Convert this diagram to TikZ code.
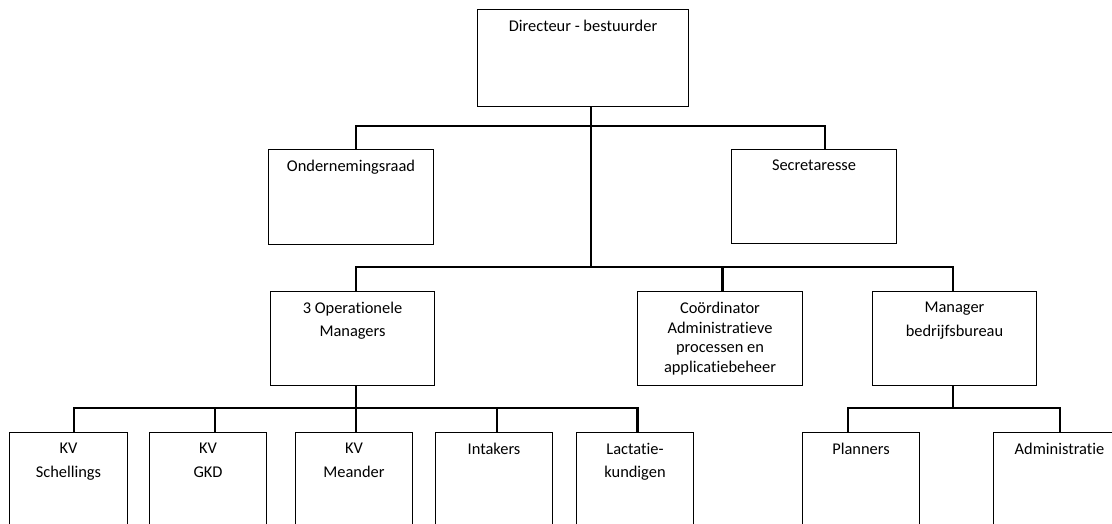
\documentclass[tikz,border=0pt]{standalone}
\usepackage{fontspec}
\setmainfont{Carlito}[Ligatures=NoCommon]
\begin{document}
\begin{tikzpicture}[x=1pt,y=-1pt,
  orgbox/.style={draw=black,line width=1pt,fill=white,inner sep=0pt,anchor=north west},
  conn/.style={line width=2.9pt,line join=miter},
  lbl/.style={anchor=north,inner sep=0pt,align=center,yshift=-11pt,
    font=\fontsize{16.4}{23.4}\selectfont},
  lbltight/.style={lbl,font=\fontsize{16.4}{19.6}\selectfont}]
\clip (0,0) rectangle (1112,524);
\fill[white] (0,0) rectangle (1112,524);
% boxes
\node[orgbox,minimum width=211pt,minimum height=97pt] (dir) at (477,9) {};
\node[orgbox,minimum width=165pt,minimum height=95pt] (or) at (268,149) {};
\node[orgbox,minimum width=165pt,minimum height=94pt] (sec) at (731,149) {};
\node[orgbox,minimum width=164pt,minimum height=94pt] (opm) at (270,291) {};
\node[orgbox,minimum width=165pt,minimum height=94pt] (coo) at (637,291) {};
\node[orgbox,minimum width=164pt,minimum height=94pt] (man) at (872,291) {};
\node[orgbox,minimum width=118pt,minimum height=110pt] (kv1) at (9,432) {};
\node[orgbox,minimum width=117pt,minimum height=110pt] (kv2) at (149,432) {};
\node[orgbox,minimum width=117pt,minimum height=110pt] (kv3) at (295,432) {};
\node[orgbox,minimum width=117pt,minimum height=110pt] (int) at (435,432) {};
\node[orgbox,minimum width=117pt,minimum height=110pt] (lac) at (576,432) {};
\node[orgbox,minimum width=117pt,minimum height=110pt] (pla) at (802,432) {};
\node[orgbox,minimum width=132pt,minimum height=110pt] (adm) at (993,432) {};
% labels
\node[lbl] (tdir) at (dir.north) {Directeur - bestuurder};
\node[lbl] (tor) at (or.north) {Ondernemingsraad};
\node[lbl] (tsec) at (sec.north) {Secretaresse};
\node[lbl] (topm) at (opm.north) {3 Operationele\\Managers};
\node[lbltight] (tcoo) at (coo.north) {Coördinator\\Administratieve\\processen en\\applicatiebeheer};
\node[lbl] (tman) at (man.north) {Manager\\bedrijfsbureau};
\node[lbl] (tkv1) at (kv1.north) {KV\\Schellings};
\node[lbl] (tkv2) at (kv2.north) {KV\\GKD};
\node[lbl] (tkv3) at (kv3.north) {KV\\Meander};
\node[lbl] (tint) at (int.north) {Intakers};
\node[lbl] (tlac) at (lac.north) {Lactatie-\\kundigen};
\node[lbl] (tpla) at (pla.north) {Planners};
\node[lbl] (tadm) at (adm.north) {Administratie};
% bus coordinates
\coordinate (trunkTop) at (591,106);
\coordinate (b1L) at (356,126);
\coordinate (b1R) at (825,126);
\coordinate (trunkBot) at (591,267);
\coordinate (b2L) at (356,267);
\coordinate (b2M) at (722.7,267);
\coordinate (b2R) at (953,267);
\coordinate (b3L) at (74,408);
\coordinate (b3a) at (215,408);
\coordinate (b3b) at (356,408);
\coordinate (b3c) at (497,408);
\coordinate (b3R) at (637.5,408);
\coordinate (b4L) at (848,408);
\coordinate (b4M) at (953,408);
\coordinate (b4R) at (1060,408);
% connectors
\draw[conn] (trunkTop |- dir.south) -- (trunkBot);
\draw[conn] (b1L |- or.north) -- (b1L) -- (b1R) -- (b1R |- sec.north);
\draw[conn] (b2L |- opm.north) -- (b2L) -- (b2R) -- (b2R |- man.north);
\draw[conn] (b2M) -- (b2M |- coo.north);
\draw[conn] (b3b |- opm.south) -- (b3b);
\draw[conn] (b3L |- kv1.north) -- (b3L) -- (b3R) -- (b3R |- lac.north);
\draw[conn] (b3a) -- (b3a |- kv2.north);
\draw[conn] (b3b) -- (b3b |- kv3.north);
\draw[conn] (b3c) -- (b3c |- int.north);
\draw[conn] (b4M |- man.south) -- (b4M);
\draw[conn] (b4L |- pla.north) -- (b4L) -- (b4R) -- (b4R |- adm.north);
\end{tikzpicture}
\end{document}
